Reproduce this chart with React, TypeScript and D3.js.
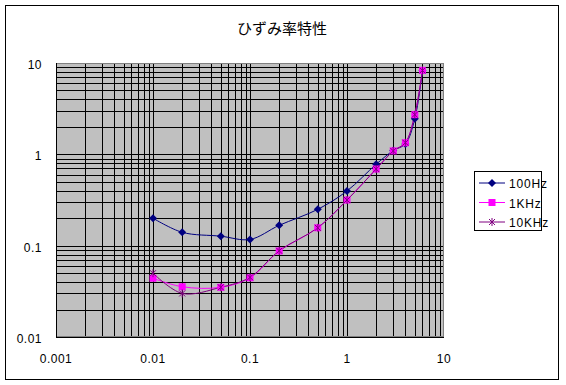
import React, { useRef, useEffect } from "react";
import * as d3 from "d3";

// data
const title = "ひずみ率特性";
const xValues = [0.01, 0.02, 0.05, 0.1, 0.2, 0.5, 1, 2, 3, 4, 5, 6];
const hz100 = [0.2, 0.14, 0.127, 0.117, 0.167, 0.25, 0.397, 0.78, 1.1, 1.3, 2.45, 8.3];
const khz1 = [0.044, 0.0355, 0.035, 0.0445, 0.0875, 0.157, 0.316, 0.69, 1.09, 1.34, 2.72, 8.3];
const khz10 = [0.05, 0.03, 0.035, 0.045, 0.088, 0.157, 0.316, 0.69, 1.09, 1.34, 2.72, 8.3];
const seriesNames = ["100Hz", "1KHz", "10KHz"];
const xTickLabels = ["0.001", "0.01", "0.1", "1", "10"];
const yTickLabels = ["0.01", "0.1", "1", "10"];

const App = () => {
  const d3Container = useRef<SVGSVGElement | null>(null);

  useEffect(() => {
    if (!d3Container.current) return;
    const svg = d3.select(d3Container.current);
    svg.selectAll("*").remove();

    const plot = { left: 56, right: 444, top: 63, bottom: 337 };
    const font = "'Liberation Sans', Arial, sans-serif";

    // outer chart border
    svg
      .append("rect")
      .attr("x", 5.5)
      .attr("y", 5.5)
      .attr("width", 553)
      .attr("height", 374)
      .attr("fill", "#fff")
      .attr("stroke", "#000");

    svg
      .append("text")
      .attr("x", 282)
      .attr("y", 34)
      .attr("text-anchor", "middle")
      .style("font-family", "'Noto Sans CJK JP', sans-serif")
      .style("font-size", "15px")
      .text(title);

    const x = d3.scaleLog().domain([0.001, 10]).range([plot.left, plot.right]);
    const y = d3.scaleLog().domain([0.01, 10]).range([plot.bottom, plot.top]);

    const g = svg.append("g");
    g.append("rect")
      .attr("x", plot.left)
      .attr("y", plot.top)
      .attr("width", plot.right - plot.left)
      .attr("height", plot.bottom - plot.top)
      .attr("fill", "#c0c0c0");

    // grid: majors and minors all black
    const xGrid = x.ticks().filter((t) => t > 0.001 && t < 10);
    const yGrid = y.ticks().filter((t) => t > 0.01 && t < 10);
    g.selectAll(".vgrid")
      .data(xGrid)
      .enter()
      .append("line")
      .attr("x1", (d) => Math.round(x(d)) + 0.5)
      .attr("x2", (d) => Math.round(x(d)) + 0.5)
      .attr("y1", plot.top)
      .attr("y2", plot.bottom)
      .attr("stroke", "#000");
    g.selectAll(".hgrid")
      .data(yGrid)
      .enter()
      .append("line")
      .attr("y1", (d) => Math.round(y(d)) + 0.5)
      .attr("y2", (d) => Math.round(y(d)) + 0.5)
      .attr("x1", plot.left)
      .attr("x2", plot.right)
      .attr("stroke", "#000");

    // plot border
    g.append("rect")
      .attr("x", plot.left + 0.5)
      .attr("y", plot.top + 0.5)
      .attr("width", plot.right - plot.left - 1)
      .attr("height", plot.bottom - plot.top - 1)
      .attr("fill", "none")
      .attr("stroke", "#808080");
    g.append("line")
      .attr("x1", plot.left)
      .attr("x2", plot.right)
      .attr("y1", plot.bottom + 0.5)
      .attr("y2", plot.bottom + 0.5)
      .attr("stroke", "#000");
    g.append("line")
      .attr("x1", plot.left + 0.5)
      .attr("x2", plot.left + 0.5)
      .attr("y1", plot.top)
      .attr("y2", plot.bottom)
      .attr("stroke", "#000");

    // tick labels
    svg
      .selectAll(".xlab")
      .data(xTickLabels)
      .enter()
      .append("text")
      .attr("x", (d) => x(+d))
      .attr("y", 363)
      .attr("text-anchor", "middle")
      .style("font-family", font)
      .style("font-size", "12px")
      .style("letter-spacing", "0.5px")
      .text((d) => d);
    svg
      .selectAll(".ylab")
      .data(yTickLabels)
      .enter()
      .append("text")
      .attr("x", 42)
      .attr("y", (d) => y(+d) + 6)
      .attr("text-anchor", "end")
      .style("font-family", font)
      .style("font-size", "12px")
      .style("letter-spacing", "0.5px")
      .text((d) => d);

    const series = [
      { name: seriesNames[0], values: hz100, color: "#000080", marker: "diamond" },
      { name: seriesNames[1], values: khz1, color: "#ff00ff", marker: "square" },
      { name: seriesNames[2], values: khz10, color: "#800080", marker: "star" },
    ];

    const line = d3
      .line<number>()
      .x((d, i) => x(xValues[i]))
      .y((d) => y(d))
      .curve(d3.curveCatmullRom);

    const drawMarker = (sel, kind, color, cx, cy) => {
      if (kind === "diamond") {
        sel.append("path")
          .attr("d", `M${cx},${cy - 4}L${cx + 4},${cy}L${cx},${cy + 4}L${cx - 4},${cy}Z`)
          .attr("fill", color);
      } else if (kind === "square") {
        sel.append("rect")
          .attr("x", cx - 3.5)
          .attr("y", cy - 3.5)
          .attr("width", 7)
          .attr("height", 7)
          .attr("fill", color);
      } else {
        sel.append("path")
          .attr("d", `M${cx - 3},${cy - 3}L${cx + 3},${cy + 3}M${cx + 3},${cy - 3}L${cx - 3},${cy + 3}M${cx},${cy - 4}L${cx},${cy + 4}`)
          .attr("stroke", color)
          .attr("stroke-width", 1)
          .attr("fill", "none");
      }
    };

    series.forEach((s) => {
      g.append("path")
        .attr("d", line(s.values))
        .attr("fill", "none")
        .attr("stroke", s.color)
        .attr("stroke-width", 1);
    });
    series.forEach((s) => {
      const mg = g.append("g");
      s.values.forEach((v, i) => drawMarker(mg, s.marker, s.color, x(xValues[i]), y(v)));
    });

    // legend
    const lg = svg.append("g");
    lg.append("rect")
      .attr("x", 474.5)
      .attr("y", 171.5)
      .attr("width", 67)
      .attr("height", 59)
      .attr("fill", "#fff")
      .attr("stroke", "#000");
    series.forEach((s, i) => {
      const ly = 183 + i * 19.5;
      lg.append("line")
        .attr("x1", 479)
        .attr("x2", 505)
        .attr("y1", ly)
        .attr("y2", ly)
        .attr("stroke", s.color)
        .attr("stroke-width", 1);
      drawMarker(lg, s.marker, s.color, 492, ly);
      lg.append("text")
        .attr("x", 509)
        .attr("y", ly + 5)
        .style("font-family", font)
        .style("font-size", "12px")
        .style("letter-spacing", "0.8px")
        .text(s.name);
    });
  }, []);

  return (
    <svg
      ref={d3Container}
      width={566}
      height={385}
      style={{ position: "absolute", left: 0, top: 0, background: "#fff" }}
    />
  );
};

export default App;
